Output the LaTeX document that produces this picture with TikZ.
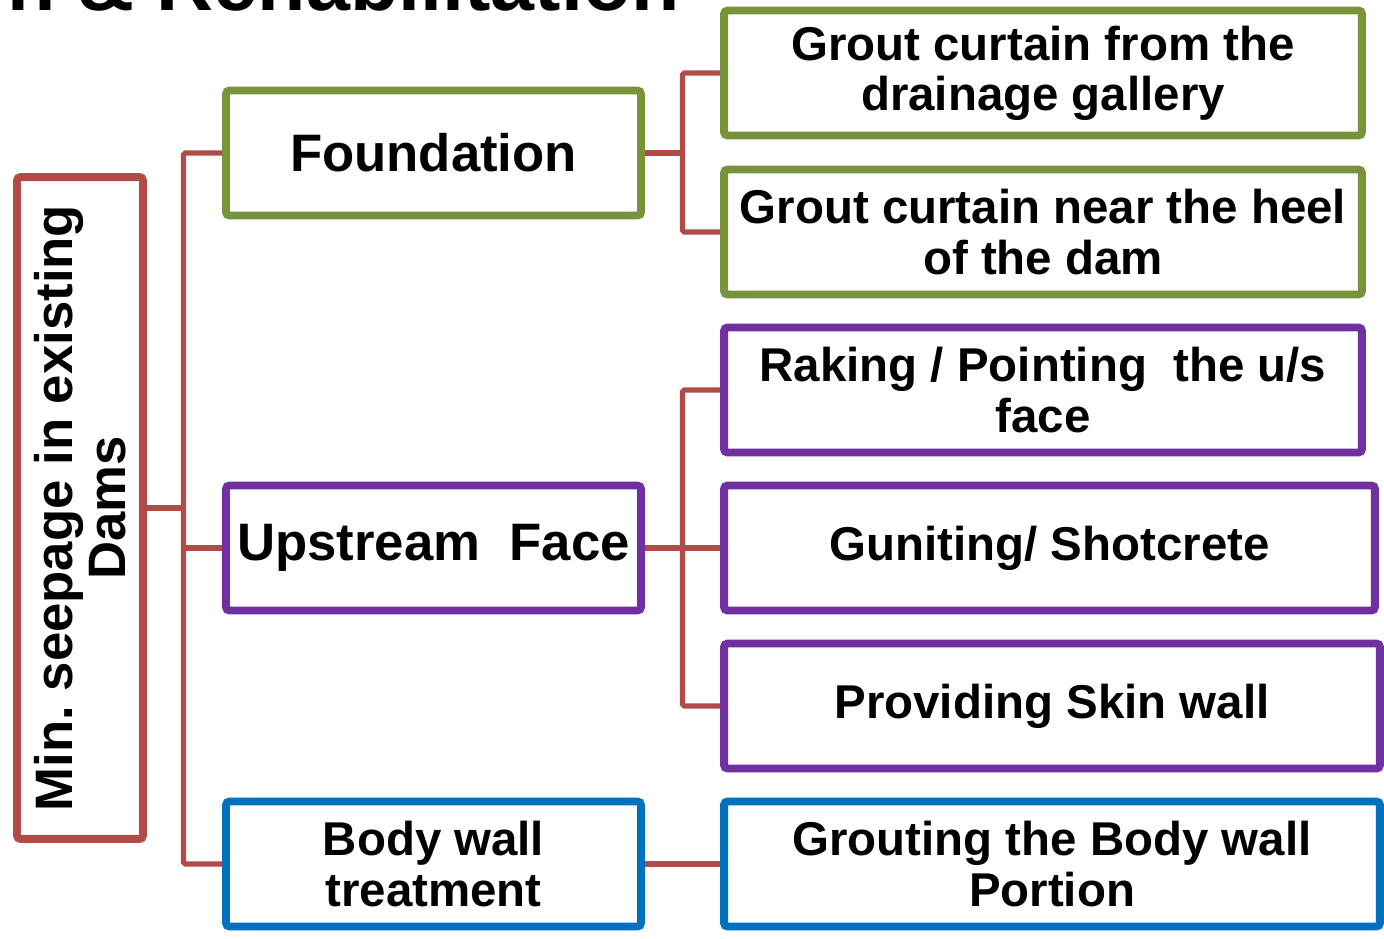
\documentclass[tikz,border=0pt]{standalone}
\usepackage{fontspec}
\setmainfont{Liberation Sans}
\usetikzlibrary{shadows}
\frenchspacing

\definecolor{linkred}{RGB}{176,75,72}
\definecolor{foundgreen}{RGB}{119,147,60}
\definecolor{facepurple}{RGB}{112,48,160}
\definecolor{bodyblue}{RGB}{0,112,192}

\tikzset{
	box/.style={draw, line width=4.5pt, rounded corners=2pt, fill=white, inner sep=0pt, align=center,
		font=\fontsize{27}{28.5}\selectfont\bfseries,
		drop shadow={opacity=0.25, shadow xshift=1.5pt, shadow yshift=-1.5pt}},
	leftbox/.style={box, minimum width=8.3cm, minimum height=2.5cm},
	rightbox/.style={box, minimum width=12.76cm, minimum height=2.5cm},
	link/.style={draw=linkred, line width=2.9pt, rounded corners=1pt}
}

\begin{document}
\begin{tikzpicture}[x=0.02cm,y=-0.02cm]
			\useasboundingbox (0,0) rectangle (1384,938);
			\clip (0,0) rectangle (1384,938);
			% title, cut off at the top
			\node[anchor=base east, inner sep=0pt, font=\fontsize{45}{45}\selectfont\bfseries] (title) at (680,10) {n \& Rehabilitation};
			% root
			\node[box, draw=linkred, rotate=90, minimum width=13.24cm, minimum height=2.52cm, font=\fontsize{30}{30}\selectfont\bfseries] (root) at (80,508) {Min. seepage in existing\\Dams};
			% first level
			\node[leftbox, draw=foundgreen, font=\fontsize{30}{30}\selectfont\bfseries] (found) at (433.5,153) {Foundation};
			\node[leftbox, draw=facepurple, font=\fontsize{30}{30}\selectfont\bfseries] (face) at (433.5,548) {Upstream\ \ Face};
			\node[leftbox, draw=bodyblue] (body) at (433.5,864) {Body wall\\treatment};
			% second level
			\node[rightbox, draw=foundgreen] (gallery) at (1043,73) {Grout curtain from the\\drainage gallery};
			\node[rightbox, draw=foundgreen] (heel) at (1043,232) {Grout curtain near the heel\\of the dam};
			\node[rightbox, draw=facepurple] (raking) at (1043,390) {Raking / Pointing\ \ the u/s\\face};
			\node[rightbox, draw=facepurple, minimum width=13.02cm] (gunite) at (1049.5,548) {Guniting/ Shotcrete};
			\node[rightbox, draw=facepurple, minimum width=13.12cm] (skin) at (1052,706) {Providing Skin wall};
			\node[rightbox, draw=bodyblue, minimum width=13.12cm] (grouting) at (1052,864) {Grouting the Body wall\\Portion};
			% connectors
			\coordinate (trunk) at (183.5,508);
			\coordinate (foundjoin) at (682.5,153);
			\coordinate (facejoin) at (682.5,548);
			\draw[link] (root.south) -- (trunk);
			\draw[link] (found.west) -| (trunk) |- (body.west);
			\draw[link] (face.west) -- (face.west -| trunk);
			\draw[link] (found.east) -- (foundjoin);
			\draw[link] (gallery.west) -| (foundjoin) |- (heel.west);
			\draw[link] (face.east) -- (gunite.west);
			\draw[link] (raking.west) -| (facejoin) |- (skin.west);
			\draw[link] (body.east) -- (grouting.west);
		\end{tikzpicture}
\end{document}
